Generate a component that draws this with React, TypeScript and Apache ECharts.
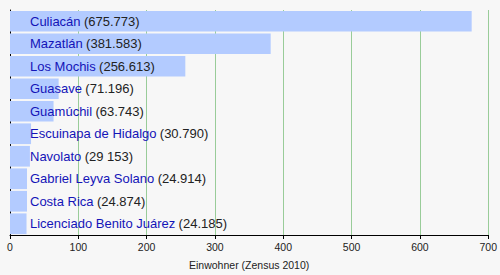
import React, { useEffect, useRef } from "react";
import * as echarts from "echarts";

const cities = [
  "Culiacán",
  "Mazatlán",
  "Los Mochis",
  "Guasave",
  "Guamúchil",
  "Escuinapa de Hidalgo",
  "Navolato",
  "Gabriel Leyva Solano",
  "Costa Rica",
  "Licenciado Benito Juárez",
];
const values = [675.773, 381.583, 256.613, 71.196, 63.743, 30.79, 29.153, 24.914, 24.874, 24.185];
const valueTexts = ["675.773", "381.583", "256.613", "71.196", "63.743", "30.790", "29 153", "24.914", "24.874", "24.185"];
const xTicks = [0, 100, 200, 300, 400, 500, 600, 700];
const axisTitle = "Einwohner (Zensus 2010)";

const FONT = "Liberation Sans, Arial, sans-serif";

export default function App() {
  const ref = useRef<HTMLDivElement>(null);
  useEffect(() => {
    if (!ref.current) return;
    const chart = echarts.init(ref.current, null, { renderer: "svg" });
    chart.setOption({
      animation: false,
      backgroundColor: "#f7f7f7",
      textStyle: { fontFamily: FONT },
      grid: { left: 10, right: 10, top: 10, bottom: 40, containLabel: false },
      xAxis: {
        type: "value",
        min: xTicks[0],
        max: xTicks[xTicks.length - 1],
        interval: 100,
        name: axisTitle,
        nameLocation: "middle",
        nameGap: 24,
        nameTextStyle: { fontSize: 10.5, color: "#222", fontFamily: FONT },
        axisLine: { show: true, lineStyle: { color: "#000", width: 1 } },
        axisTick: { show: true, length: 4, lineStyle: { color: "#000" } },
        axisLabel: { fontSize: 10.5, color: "#222", margin: 6, fontFamily: FONT },
        splitLine: { show: true, lineStyle: { color: "#9c9", width: 1 } },
      },
      yAxis: {
        type: "category",
        inverse: true,
        data: cities,
        axisLine: { show: true, lineStyle: { color: "#000", width: 1 } },
        axisTick: { show: false },
        axisLabel: { show: false },
        splitLine: { show: false },
      },
      series: [
        {
          type: "bar",
          data: values,
          barCategoryGap: "8%",
          itemStyle: { color: "#b3cbff" },
          label: {
            show: true,
            position: [20, "50%"],
            verticalAlign: "middle",
            align: "left",
            formatter: (p: any) => `{n|${cities[p.dataIndex]}} {v|(${valueTexts[p.dataIndex]})}`,
            rich: {
              n: { color: "#1414b8", fontSize: 13, fontFamily: FONT },
              v: { color: "#222", fontSize: 13, fontFamily: FONT },
            },
          },
        },
      ],
    });
    return () => chart.dispose();
  }, []);
  return <div ref={ref} style={{ position: "fixed", left: 0, top: 0, width: 500, height: 275 }} />;
}
